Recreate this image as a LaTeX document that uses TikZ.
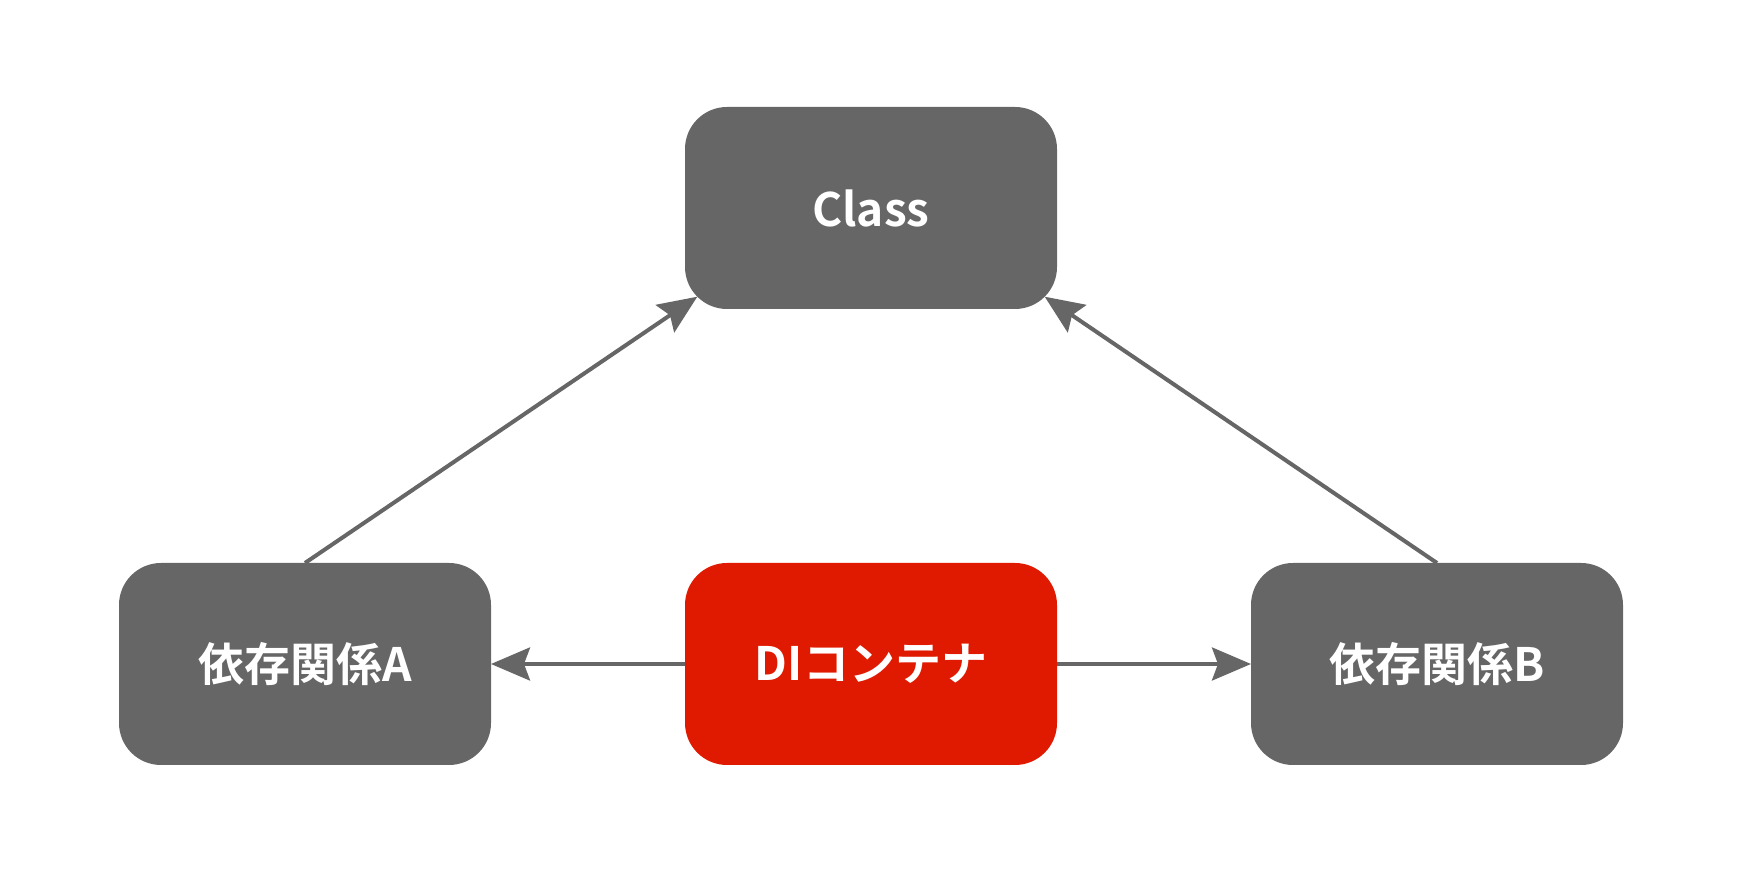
\documentclass[tikz,border=0pt]{standalone}
\usepackage{fontspec}
\setmainfont{Noto Sans CJK JP}[BoldFont={Noto Sans CJK JP Bold}]
\usetikzlibrary{arrows.meta,positioning,calc}
\definecolor{boxgray}{HTML}{666666}
\definecolor{boxred}{HTML}{E01A00}

\begin{document}
\begin{tikzpicture}[x=0.5pt,y=0.5pt,>={Stealth[length=19.5pt,width=16.5pt,inset=3pt]},
  block/.style={rectangle,rounded corners=21pt,fill=boxgray,text=white,minimum width=186pt,
    minimum height=101pt,outer sep=0pt,font=\bfseries\fontsize{23}{28}\selectfont},
  container/.style={block,fill=boxred},
  link/.style={->,color=boxgray,line width=2pt}]
  \useasboundingbox (0,0) rectangle (1742,873);
  \node[block]                          (class) at (871,665) {Class};
  \node[container, below=127pt of class] (di)    {DIコンテナ};
  \node[block, left=97pt of di]         (depA)  {依存関係A};
  \node[block, right=97pt of di]        (depB)  {依存関係B};

  % arrow tips sit on the rounded corners of Class
  \coordinate (classSW) at ($(class.south west)+(6.15pt,6.15pt)$);
  \coordinate (classSE) at ($(class.south east)+(-6.15pt,6.15pt)$);

  \path[link]
  (depA.north) edge (classSW)
  (depB.north) edge (classSE)

  (di)
  edge (depA)
  edge (depB)
;
\end{tikzpicture}
\end{document}
